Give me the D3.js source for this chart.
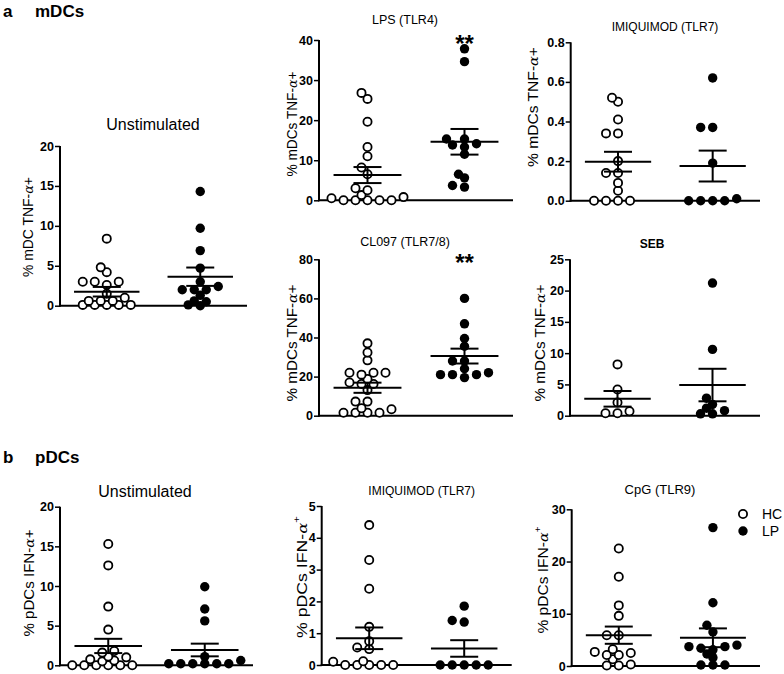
<!DOCTYPE html>
<html>
<head>
<meta charset="utf-8">
<script src="https://cdn.jsdelivr.net/npm/d3@7"></script>
<style>
  body { margin: 0; background: #fff; }
  svg { font-family: "Liberation Sans", Arial, sans-serif; }
</style>
</head>
<body>
<div id="chart"></div>
<script>
const groups = ["HC", "LP"]

// a: mDCs, % TNF-a+
const mdcUnstimHC = [8.4, 4.8, 4.2, 3.0, 3.0, 3.0, 2.6, 1.5, 1.0, 0.6, 0.6, 0.6, 0.1, 0.1, 0.1, 0.1, 0.1]
const mdcUnstimLP = [14.3, 9.7, 6.9, 4.7, 3.0, 2.4, 2.0, 2.0, 2.0, 1.3, 0.6, 0.5, 0.1, 0.0]
const mdcLpsHC = [26.8, 25.3, 19.6, 13.3, 11.0, 8.2, 6.5, 3.0, 2.5, 1.3, 0.8, 0.5, 0, 0, 0, 0, 0]
const mdcLpsLP = [37.8, 34.6, 15.3, 15.3, 14.1, 13.8, 13.3, 11.5, 6.5, 5.6, 3.7, 3.3]
const mdcImiqHC = [0.52, 0.50, 0.41, 0.34, 0.34, 0.20, 0.14, 0.14, 0.09, 0.05, 0, 0, 0, 0]
const mdcImiqLP = [0.62, 0.37, 0.37, 0.19, 0.01, 0, 0, 0, 0]
const mdcCl097HC = [37, 32.3, 28.3, 22, 22, 22, 21, 18.8, 17, 16.2, 16.2, 13.1, 7.2, 7.2, 3.8, 3.3, 1.5, 1.5, 1.5, 1.5]
const mdcCl097LP = [60, 47, 39.5, 35.5, 28, 28, 24, 22, 21, 21, 21, 19.5]
const mdcSebHC = [8.2, 4.2, 2.1, 0.7, 0.4, 0.4]
const mdcSebLP = [21.2, 10.6, 2.8, 1.8, 1.2, 0.8, 0.3, 0.3]

// b: pDCs, % IFN-a+
const pdcUnstimHC = [15.3, 12.6, 7.4, 4.5, 1.8, 1.6, 1.1, 1.0, 0.75, 0.6, 0.5, 0, 0, 0, 0, 0, 0]
const pdcUnstimLP = [9.9, 7.1, 5.6, 1.1, 0.6, 0.2, 0.2, 0.2, 0.2, 0.2, 0.2]
const pdcImiqHC = [4.4, 3.3, 2.4, 1.2, 0.75, 0.55, 0.5, 0.12, 0.1, 0, 0, 0, 0, 0]
const pdcImiqLP = [1.85, 1.4, 1.35, 0, 0, 0, 0, 0]
const pdcCpgHC = [22.5, 17.1, 11.6, 9.6, 5.9, 5.9, 3.2, 2.7, 2.5, 2.1, 2.1, 1.3, 0.3, 0.1, 0.1]
const pdcCpgLP = [26.5, 12.1, 7.8, 6.5, 4.0, 3.7, 3.7, 3.4, 3.1, 2.3, 1.6, 0.2, 0.2, 0.2]

// mean and SEM [HC, LP]
const mdcUnstimMean = [1.75, 3.63], mdcUnstimSem = [0.6, 1.15]
const mdcLpsMean = [6.3, 14.6], mdcLpsSem = [2.0, 3.2]
const mdcImiqMean = [0.197, 0.175], mdcImiqSem = [0.05, 0.078]
const mdcCl097Mean = [14.3, 30.5], mdcCl097Sem = [2.6, 3.8]
const mdcSebMean = [2.7, 4.9], mdcSebSem = [1.25, 2.6]
const pdcUnstimMean = [2.44, 1.93], pdcUnstimSem = [0.9, 0.8]
const pdcImiqMean = [0.84, 0.52], pdcImiqSem = [0.34, 0.26]
const pdcCpgMean = [5.9, 5.4], pdcCpgSem = [1.65, 1.8]

const ticks20by5 = [0, 5, 10, 15, 20]
const ticks40 = [0, 10, 20, 30, 40]
const ticksImiq = [0, 0.2, 0.4, 0.6, 0.8]
const ticks80 = [0, 20, 40, 60, 80]
const ticks25 = [0, 5, 10, 15, 20, 25]
const ticks5 = [0, 1, 2, 3, 4, 5]
const ticks30 = [0, 10, 20, 30]


const svg = d3.select("#chart").append("svg")
    .attr("width", 784)
    .attr("height", 674)

const panels = [
    {title: "Unstimulated", tSize: 16, tBold: false, tx: 153, ty: 130, label: "% mDC TNF-", sup: false, lx: 28, ly: 227, ll: 100,
     hc: mdcUnstimHC, lp: mdcUnstimLP, mean: mdcUnstimMean, sem: mdcUnstimSem, ticks: ticks20by5, fmt: "d",
     x0: 60, x1: 247, yTop: 146, yBot: 305.7},
    {title: "LPS (TLR4)", tSize: 12.5, tBold: false, tx: 405, ty: 24, label: "% mDCs TNF-", sup: false, lx: 292, ly: 124, ll: 105,
     hc: mdcLpsHC, lp: mdcLpsLP, mean: mdcLpsMean, sem: mdcLpsSem, ticks: ticks40, fmt: "d", stars: true,
     x0: 319, x1: 513, yTop: 40, yBot: 200.3},
    {title: "IMIQUIMOD (TLR7)", tSize: 12, tBold: false, tx: 665, ty: 31, label: "% mDCs TNF-", sup: false, lx: 533, ly: 107, ll: 120,
     hc: mdcImiqHC, lp: mdcImiqLP, mean: mdcImiqMean, sem: mdcImiqSem, ticks: ticksImiq, fmt: ".1f",
     x0: 570.7, x1: 760, yTop: 42.3, yBot: 200.7},
    {title: "CL097 (TLR7/8)", tSize: 12.5, tBold: false, tx: 405, ty: 246, label: "% mDCs TNF-", sup: false, lx: 292, ly: 343, ll: 117,
     hc: mdcCl097HC, lp: mdcCl097LP, mean: mdcCl097Mean, sem: mdcCl097Sem, ticks: ticks80, fmt: "d", stars: true,
     x0: 319, x1: 513, yTop: 259.3, yBot: 415.7},
    {title: "SEB", tSize: 12, tBold: true, tx: 652, ty: 248, label: "% mDCs TNF-", sup: false, lx: 540, ly: 343, ll: 117,
     hc: mdcSebHC, lp: mdcSebLP, mean: mdcSebMean, sem: mdcSebSem, ticks: ticks25, fmt: "d",
     x0: 570, x1: 760, yTop: 259.3, yBot: 415.7},
    {title: "Unstimulated", tSize: 16, tBold: false, tx: 145, ty: 497, label: "% pDCs IFN-", sup: false, lx: 29, ly: 583, ll: 107,
     hc: pdcUnstimHC, lp: pdcUnstimLP, mean: pdcUnstimMean, sem: pdcUnstimSem, ticks: ticks20by5, fmt: "d",
     x0: 60, x1: 253, yTop: 506.7, yBot: 665.3},
    {title: "IMIQUIMOD (TLR7)", tSize: 12, tBold: false, tx: 421.7, ty: 495, label: "% pDCs IFN-", sup: true, lx: 302, ly: 577, ll: 122,
     hc: pdcImiqHC, lp: pdcImiqLP, mean: pdcImiqMean, sem: pdcImiqSem, ticks: ticks5, fmt: "d",
     x0: 321.7, x1: 511.7, yTop: 506, yBot: 665},
    {title: "CpG (TLR9)", tSize: 13, tBold: false, tx: 660, ty: 494, label: "% pDCs IFN-", sup: true, lx: 543, ly: 580, ll: 107,
     hc: pdcCpgHC, lp: pdcCpgLP, mean: pdcCpgMean, sem: pdcCpgSem, ticks: ticks30, fmt: "d",
     x0: 571.7, x1: 760, yTop: 509.3, yBot: 666}
]


// scatter columns: lowest points first, pushed sideways on a half-step grid
function swarm(values, y, cx, step, minDist) {
    const placed = []
    const pts = values.map(v => ({v: v, y: y(v)})).sort((a, b) => b.y - a.y)
    pts.forEach(d => {
        let dx = 0
        for (let k = 0; k < 60; k++) {
            const cand = k === 0 ? 0 : (k % 2 ? -1 : 1) * Math.ceil(k / 2) * step
            if (placed.every(p => Math.hypot(p.x - cand, p.y - d.y) >= minDist)) {
                dx = cand
                break
            }
        }
        placed.push({x: dx, y: d.y})
        d.x = cx + dx
    })
    return pts
}


function drawPanel(p) {
    const g = svg.append("g")

    const y = d3.scaleLinear()
        .domain([0, d3.max(p.ticks)])
        .range([p.yBot, p.yTop])

    const x = d3.scalePoint()
        .domain(groups)
        .range([p.x0, p.x1])
        .padding(0.5)

    // y axis
    const yAxis = g.append("g")
        .attr("transform", `translate(${p.x0},0)`)
        .call(d3.axisLeft(y).tickValues(p.ticks).tickFormat(d3.format(p.fmt)).tickSize(5).tickSizeOuter(0).tickPadding(1))
    yAxis.attr("font-size", 12.5).attr("font-weight", "bold").attr("font-family", "Liberation Sans, Arial, sans-serif")
    yAxis.select(".domain").attr("stroke-width", 2).attr("d", `M0,${p.yBot + 1}V${p.yTop}`)
    yAxis.selectAll(".tick line").attr("stroke-width", 1.5)
    yAxis.selectAll(".tick text").attr("fill", "#000")

    // x axis baseline
    g.append("line")
        .attr("x1", p.x0 - 1).attr("x2", p.x1)
        .attr("y1", p.yBot).attr("y2", p.yBot)
        .attr("stroke", "#000")
        .attr("stroke-width", 2)

    // points
    const sets = [p.hc, p.lp]
    sets.forEach((vals, i) => {
        const pts = swarm(vals, y, x(groups[i]), 6, 7)
        g.append("g")
            .selectAll("circle")
            .data(pts)
            .join("circle")
            .attr("cx", d => d.x)
            .attr("cy", d => d.y)
            .attr("r", i === 0 ? 4.1 : 4.7)
            .attr("fill", i === 0 ? "#fff" : "#000")
            .attr("stroke", "#000")
            .attr("stroke-width", i === 0 ? 1.8 : 0)
    })

    // mean +/- SEM
    const half = (p.x1 - p.x0) * 0.175
    groups.forEach((grp, i) => {
        const cx = x(grp)
        const m = p.mean[i], s = p.sem[i]
        const lines = [
            [cx - half, y(m), cx + half, y(m)],
            [cx - 14, y(m + s), cx + 14, y(m + s)],
            [cx - 14, y(m - s), cx + 14, y(m - s)],
            [cx, y(m + s), cx, y(m - s)]
        ]
        g.append("g")
            .selectAll("line")
            .data(lines)
            .join("line")
            .attr("x1", d => d[0]).attr("y1", d => d[1])
            .attr("x2", d => d[2]).attr("y2", d => d[3])
            .attr("stroke", "#000")
            .attr("stroke-width", 2)
    })

    // title
    g.append("text")
        .attr("x", p.tx)
        .attr("y", p.ty)
        .attr("text-anchor", "middle")
        .attr("font-size", p.tSize)
        .attr("font-weight", p.tBold ? "bold" : "normal")
        .text(p.title)

    // y label
    const lab = g.append("text")
        .attr("transform", `translate(${p.lx + 5},${p.ly}) rotate(-90)`)
        .attr("text-anchor", "middle")
        .attr("font-size", 14)
        .attr("textLength", p.ll)
        .attr("lengthAdjust", "spacingAndGlyphs")
    lab.append("tspan").text(p.label)
    lab.append("tspan").attr("font-style", "italic").attr("font-family", "DejaVu Serif, serif").attr("font-size", 13).text("α")
    if (p.sup) {
        lab.append("tspan").attr("font-size", 9).attr("dy", -7).text("+")
    } else {
        lab.append("tspan").text("+")
    }

    if (p.stars) {
        g.append("text")
            .attr("x", x("LP"))
            .attr("y", p.yTop + 12)
            .attr("text-anchor", "middle")
            .attr("font-size", 24)
            .attr("font-weight", "bold")
            .text("**")
    }
}

panels.forEach(drawPanel)

// section headings
const heads = [["a", "mDCs", 17], ["b", "pDCs", 463]]
heads.forEach(h => {
    svg.append("text").attr("x", 3).attr("y", h[2]).attr("font-size", 17).attr("font-weight", "bold").text(h[0])
    svg.append("text").attr("x", 35).attr("y", h[2]).attr("font-size", 17).attr("font-weight", "bold").text(h[1])
})

// legend
const legend = svg.append("g")
    .selectAll("g")
    .data(groups)
    .join("g")
    .attr("transform", (d, i) => `translate(743,${514 + i * 17})`)
legend.append("circle")
    .attr("r", (d, i) => i === 0 ? 4.1 : 4.7)
    .attr("fill", (d, i) => i === 0 ? "#fff" : "#000")
    .attr("stroke", "#000")
    .attr("stroke-width", (d, i) => i === 0 ? 1.8 : 0)
legend.append("text")
    .attr("x", 19)
    .attr("y", 5)
    .attr("font-size", 14)
    .text(d => d)
</script>
</body>
</html>
